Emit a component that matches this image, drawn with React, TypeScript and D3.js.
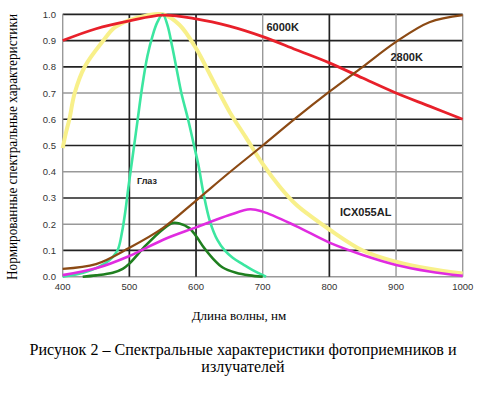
import React, { useEffect, useRef } from "react";
import * as d3 from "d3";

// wavelength grid shared by the two black-body curves
const wl = [400, 450, 500, 550, 600, 650, 700, 750, 800, 850, 900, 950, 1000];
const k6000 = [0.9, 0.945, 0.975, 0.997, 0.983, 0.955, 0.915, 0.865, 0.815, 0.757, 0.7, 0.65, 0.6];
const k2800 = [0.03, 0.048, 0.11, 0.185, 0.29, 0.397, 0.5, 0.605, 0.705, 0.8, 0.895, 0.97, 0.997];

// yellow curve
const yellowWl = [400, 405, 410, 418, 433, 461, 478, 500, 525, 550, 575, 600, 625, 650, 675, 700, 725, 750, 775, 800, 850, 900, 950, 1000];
const yellowVal = [0.49, 0.55, 0.6, 0.7, 0.8, 0.9, 0.95, 0.978, 0.995, 1.0, 0.96, 0.87, 0.75, 0.63, 0.53, 0.43, 0.345, 0.275, 0.225, 0.18, 0.1, 0.057, 0.03, 0.012];

// ICX055AL
const icxWl = [400, 450, 500, 550, 600, 650, 681, 700, 750, 800, 850, 900, 950, 1000];
const icxVal = [0.006, 0.032, 0.079, 0.14, 0.188, 0.235, 0.257, 0.248, 0.193, 0.13, 0.083, 0.045, 0.02, 0.003];

// eye (light green)
const eyeWl = [400, 420, 443, 463, 475, 483, 489, 494, 499, 505, 512, 519, 527, 535, 542, 550, 557, 564, 571, 578, 588, 597, 604, 611, 621, 632, 643, 655, 670, 685, 705];
const eyeVal = [0.0, 0.008, 0.025, 0.05, 0.075, 0.105, 0.17, 0.25, 0.35, 0.46, 0.59, 0.72, 0.84, 0.92, 0.97, 1.0, 0.96, 0.88, 0.79, 0.7, 0.6, 0.5, 0.42, 0.32, 0.21, 0.14, 0.1, 0.072, 0.048, 0.025, 0.0];

// dark green
const dgWl = [430, 450, 475, 490, 500, 525, 550, 565, 575, 590, 600, 612, 625, 640, 660, 680, 700];
const dgVal = [0.0, 0.005, 0.015, 0.03, 0.05, 0.12, 0.18, 0.205, 0.203, 0.185, 0.155, 0.11, 0.07, 0.035, 0.015, 0.005, 0.0];

const xTicks = [400, 500, 600, 700, 800, 900, 1000];
const yTicks = [0, 0.1, 0.2, 0.3, 0.4, 0.5, 0.6, 0.7, 0.8, 0.9, 1.0];
const darkX = [500, 600, 800];
const darkY = [0.1, 0.3, 0.5, 0.6, 0.8, 0.9, 1.0];

export default function App() {
  const ref = useRef<SVGSVGElement>(null);

  useEffect(() => {
    const svg = d3.select(ref.current);
    svg.selectAll("*").remove();

    const x = d3.scaleLinear().domain([400, 1000]).range([62.7, 462.7]);
    const y = d3.scaleLinear().domain([0, 1]).range([276.7, 14.3]);

    svg.append("rect").attr("width", 486).attr("height", 396).attr("fill", "#fff");

    // grid
    const g = svg.append("g");
    yTicks.forEach((t) => {
      const dark = darkY.some((d) => Math.abs(d - t) < 1e-6);
      g.append("line")
        .attr("x1", x(400)).attr("x2", x(1000))
        .attr("y1", y(t)).attr("y2", y(t))
        .attr("stroke", dark ? "#222" : "#999")
        .attr("stroke-width", dark ? 1.7 : 1.4);
    });
    xTicks.forEach((t) => {
      const dark = darkX.includes(t);
      g.append("line")
        .attr("x1", x(t)).attr("x2", x(t))
        .attr("y1", y(0)).attr("y2", y(1))
        .attr("stroke", dark ? "#222" : "#999")
        .attr("stroke-width", dark ? 1.7 : 1.4);
    });

    // tick labels
    g.selectAll(".yt").data(yTicks).enter().append("text")
      .attr("x", 56).attr("y", (d) => y(d) + 3.5)
      .attr("text-anchor", "end")
      .attr("font-family", "Liberation Sans, Arial, sans-serif")
      .attr("font-size", 9.5).attr("fill", "#333")
      .text((d) => d.toFixed(1));
    g.selectAll(".xt").data(xTicks).enter().append("text")
      .attr("x", (d) => x(d)).attr("y", 290)
      .attr("text-anchor", "middle")
      .attr("font-family", "Liberation Sans, Arial, sans-serif")
      .attr("font-size", 9.5).attr("fill", "#333")
      .text((d) => d);

    const line = d3.line<[number, number]>()
      .x((d) => x(d[0]))
      .y((d) => y(Math.max(0, d[1])))
      .curve(d3.curveCatmullRom.alpha(0.5));

    const curves: [number[], number[], string, number][] = [
      [yellowWl, yellowVal, "#f8f08a", 4],
      [eyeWl, eyeVal, "#3ce6a0", 2.6],
      [dgWl, dgVal, "#1f7f1f", 2.6],
      [wl, k6000, "#e8202a", 2.8],
      [wl, k2800, "#8c4a14", 2.2],
      [icxWl, icxVal, "#e02ce0", 2.6],
    ];
    curves.forEach(([xs, vs, color, w]) => {
      svg.append("path")
        .datum(xs.map((v, i) => [v, vs[i]] as [number, number]))
        .attr("fill", "none")
        .attr("stroke", color)
        .attr("stroke-width", w)
        .attr("stroke-linejoin", "round")
        .attr("d", line);
    });

    // curve labels
    const labels: [string, number, number, number][] = [
      ["6000K", 266.5, 30.7, 11],
      ["2800K", 390.5, 60.7, 11],
      ["Глаз", 137, 183.5, 9],
      ["ICX055AL", 340, 216, 11],
    ];
    labels.forEach(([t, lx, ly, fs]) => {
      svg.append("text")
        .attr("x", lx).attr("y", ly)
        .attr("font-family", "Liberation Sans, Arial, sans-serif")
        .attr("font-weight", "bold")
        .attr("font-size", fs).attr("fill", "#222")
        .text(t);
    });

    // axis titles
    svg.append("text")
      .attr("transform", "translate(17,147) rotate(-90)")
      .attr("text-anchor", "middle")
      .attr("font-family", "Liberation Serif, Times New Roman, serif")
      .attr("font-size", 14)
      .attr("textLength", 266)
      .attr("lengthAdjust", "spacingAndGlyphs")
      .text("Нормированные спектральные характеристики");

    svg.append("text")
      .attr("x", 239).attr("y", 320)
      .attr("text-anchor", "middle")
      .attr("font-family", "Liberation Serif, Times New Roman, serif")
      .attr("font-size", 13)
      .text("Длина волны, нм");

    svg.append("text")
      .attr("x", 243).attr("y", 354.5)
      .attr("text-anchor", "middle")
      .attr("font-family", "Liberation Serif, Times New Roman, serif")
      .attr("font-size", 16)
      .attr("textLength", 427)
      .attr("lengthAdjust", "spacingAndGlyphs")
      .text("Рисунок 2 – Спектральные характеристики фотоприемников и");
    svg.append("text")
      .attr("x", 243).attr("y", 372)
      .attr("text-anchor", "middle")
      .attr("font-family", "Liberation Serif, Times New Roman, serif")
      .attr("font-size", 16)
      .text("излучателей");
  }, []);

  return (
    <svg
      ref={ref}
      width={486}
      height={396}
      style={{ position: "absolute", left: 0, top: 0 }}
    />
  );
}
